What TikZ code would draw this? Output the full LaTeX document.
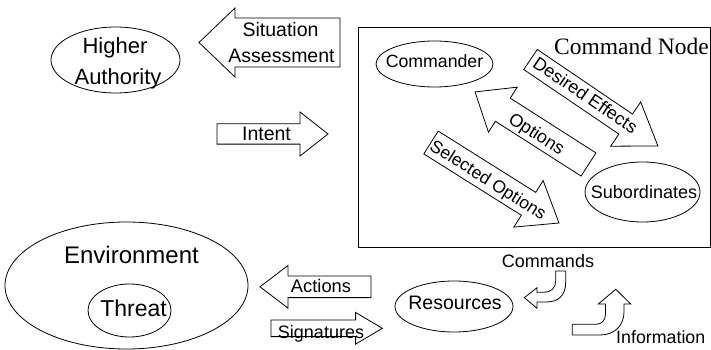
\documentclass[tikz,border=0pt]{standalone}
\usepackage{fontspec}
\setmainfont{Liberation Sans}
\newfontfamily\serifface{Liberation Serif}
\usetikzlibrary{shapes.geometric}
\newcommand{\blockarr}[6]{%
  \begin{scope}[shift={#1},rotate=#2]
    \draw[barrow] (0,{-#5/2}) -- ({#3-#4},{-#5/2}) -- ({#3-#4},{-#6/2}) -- (#3,0)
      -- ({#3-#4},{#6/2}) -- ({#3-#4},{#5/2}) -- (0,{#5/2}) -- cycle;
  \end{scope}}
\tikzset{
  ell/.style={draw, ellipse, line width=0.8pt, inner sep=0pt},
  barrow/.style={draw, line width=0.8pt, line join=miter},
  big/.style={font=\fontsize{22}{26}\selectfont, inner sep=0pt},
  mid/.style={font=\fontsize{19.5}{24}\selectfont, inner sep=0pt},
  sml/.style={font=\fontsize{18}{22}\selectfont, inner sep=0pt},
}
\begin{document}
\begin{tikzpicture}[x=1pt,y=1pt]
\useasboundingbox (0,0) rectangle (711,350);
% Command node box
\draw[line width=0.8pt] (358,103) rectangle (710,323);
\node[anchor=base east, inner sep=0pt, font=\serifface\fontsize{23.5}{28}\selectfont] (cnlabel) at (709,295) {Command Node};

% Higher authority
\node[ell, minimum width=129pt, minimum height=66pt] (ha) at (115.5,290) {};
\node[big, anchor=base] (ha1) at (115,296.7) {Higher};
\node[big, anchor=base] (ha2) at (118,265.7) {Authority};

% Situation assessment arrow
\blockarr{(340,307.5)}{180}{141}{36}{49}{69}
\node[mid, anchor=base] (sa1) at (280.5,313) {Situation};
\node[mid, anchor=base] (sa2) at (281.5,287) {Assessment};

% Intent arrow
\blockarr{(217,216)}{0}{111}{28}{20.3}{44}
\node[mid, anchor=base] (intent) at (266.5,209.3) {Intent};

% Commander / Subordinates
\node[ell, minimum width=117pt, minimum height=46pt] (cmdr) at (434.5,286) {};
\node[sml, font=\fontsize{17.7}{22}\selectfont, anchor=base] (cmdrt) at (434.5,282.3) {Commander};
\node[ell, minimum width=115pt, minimum height=60pt] (sub) at (642.5,158) {};
\node[sml, anchor=base] (subt) at (644,151.7) {Subordinates};

% Desired effects
\blockarr{(530.5,290.5)}{-34.16}{154}{39}{24.2}{53.5}
\node[sml, rotate=-34.16] (de) at (585.5,255) {Desired Effects};
% Options
\blockarr{(588.5,185.5)}{147.4}{134.7}{33}{27.5}{53.5}
\node[sml, rotate=-32.6] (opt) at (536,215) {Options};
% Selected options
\blockarr{(431,207.5)}{-32.17}{151.2}{36}{27}{55}
\node[sml, font=\fontsize{17.5}{22}\selectfont, rotate=-32.17] (so) at (487.5,169) {Selected Options};

% Environment / Threat
\node[ell, minimum width=243pt, minimum height=127pt] (env) at (126.5,64.5) {};
\node[big, font=\fontsize{24}{28}\selectfont, anchor=base] (envt) at (131.5,86.7) {Environment};
\node[ell, minimum width=83pt, minimum height=53pt] (thr) at (129.5,39.5) {};
\node[big, font=\fontsize{23}{28}\selectfont, anchor=base] (thrt) at (133.5,33.3) {Threat};

% Actions / Signatures
\blockarr{(371,63.2)}{180}{111}{28}{21.7}{42.7}
\node[sml, font=\fontsize{18.3}{22}\selectfont, anchor=base] (act) at (321,57.3) {Actions};
\blockarr{(271,21.7)}{0}{111.3}{26.7}{16.7}{31.7}
\node[sml, anchor=base] (sig) at (321,11.7) {Signatures};

% Resources
\node[ell, minimum width=118pt, minimum height=51pt] (res) at (454,43.5) {};
\node[mid, anchor=base] (rest) at (455,40) {Resources};

% Commands bent arrow
\draw[barrow] (555.7,79) -- (565.7,79) -- (565.7,68) .. controls (565.7,54) and (558,48) .. (546,48)
  -- (537,48) -- (537,41.7) -- (524.3,52.3) -- (537,62.3) -- (537,57.7) -- (544,57.7)
  .. controls (551,57.7) and (555.7,62) .. (555.7,69) -- cycle;
\node[sml, anchor=base] (cmds) at (548,82) {Commands};

% Information bent arrow
\draw[barrow] (572.3,15) -- (600,15) .. controls (615,15) and (624,25) .. (624,38) -- (624,46)
  -- (630.7,46) -- (615.7,60.7) -- (598.3,46) -- (605.5,46) -- (605.5,36)
  .. controls (605.5,30) and (602,25.7) .. (596,25.7) -- (572.3,25.7) -- cycle;
\node[sml, font=\fontsize{17.8}{22}\selectfont, anchor=base west] (info) at (616,6.7) {Information};
\end{tikzpicture}
\end{document}
